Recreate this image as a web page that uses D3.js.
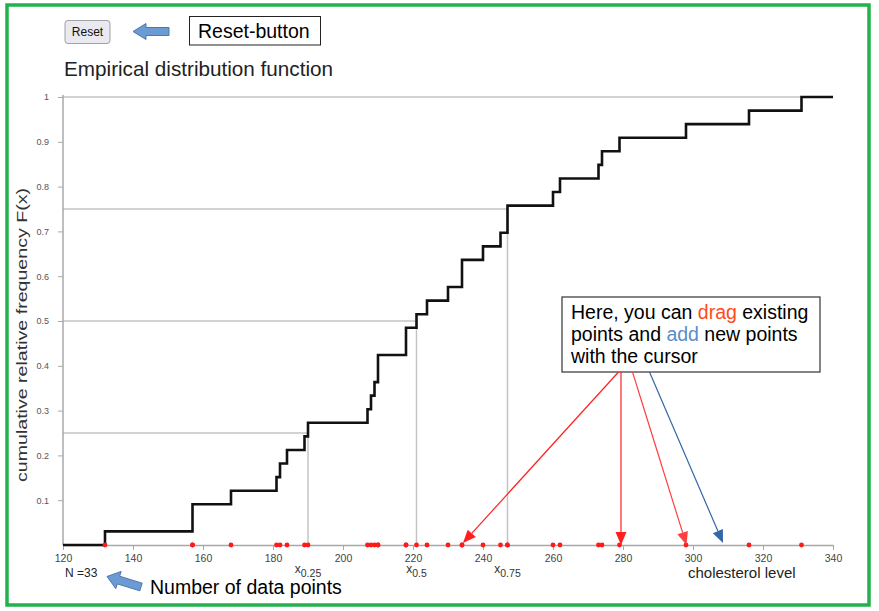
<!DOCTYPE html>
<html><head><meta charset="utf-8">
<script src="https://cdn.jsdelivr.net/npm/d3@7"></script>
<style>
html,body{margin:0;padding:0;background:#fff;}
svg{display:block;font-family:"Liberation Sans",Arial,sans-serif;}
</style></head>
<body>
<svg id="c" width="879" height="611"></svg>
<script>
// ---- data ----
const cholesterol = [132,157,157,168,181,182,184,189,190,207,208,209,210,210,218,218,221,224,230,234,234,240,245,247,247,260,262,273,274,279,298,316,331];
const quantileProbs = [0.25, 0.5, 0.75];
const quantileLabels = ["0.25", "0.5", "0.75"];
const xTicks = [120,140,160,180,200,220,240,260,280,300,320,340];
const yTicks = [0.1,0.2,0.3,0.4,0.5,0.6,0.7,0.8,0.9,1];
const xDomain = [120, 340];
const dragTargets = [234, 279, 298];
const addTarget = 308;

const svg = d3.select("#c");
const x = d3.scaleLinear().domain(xDomain).range([63, 833]);
const y = d3.scaleLinear().domain([0, 1]).range([545, 97]);
const n = cholesterol.length;
const sorted = cholesterol.slice().sort(d3.ascending);

// ECDF points
const uniq = Array.from(new Set(sorted));
const pts = [[xDomain[0], 0]];
uniq.forEach(v => pts.push([v, sorted.filter(d => d <= v).length / n]));
pts.push([xDomain[1], 1]);

// quantiles (smallest x with F(x) >= p)
const quantiles = quantileProbs.map(p => sorted[Math.ceil(p * n - 1e-9) - 1]);

// green frame
svg.append("rect").attr("x", 7).attr("y", 5).attr("width", 862).attr("height", 600)
  .attr("fill", "none").attr("stroke", "#22b14c").attr("stroke-width", 3.5);

// reset button
svg.append("rect").attr("x", 65).attr("y", 20.5).attr("width", 45).attr("height", 23).attr("rx", 3)
  .attr("fill", "#e9e9ef").attr("stroke", "#a0a0a8");
svg.append("text").attr("x", 87.5).attr("y", 36).attr("text-anchor", "middle")
  .attr("font-size", 12).attr("fill", "#111").text("Reset");

// fat arrow helper
function fatArrow(tipX, tipY, tailX, tailY, headLen, headW, shaftW) {
  const dx = tailX - tipX, dy = tailY - tipY, L = Math.hypot(dx, dy);
  const ux = dx / L, uy = dy / L, px = -uy, py = ux;
  const hb = [tipX + ux * headLen, tipY + uy * headLen];
  const p = [
    [tipX, tipY],
    [hb[0] + px * headW / 2, hb[1] + py * headW / 2],
    [hb[0] + px * shaftW / 2, hb[1] + py * shaftW / 2],
    [tailX + px * shaftW / 2, tailY + py * shaftW / 2],
    [tailX - px * shaftW / 2, tailY - py * shaftW / 2],
    [hb[0] - px * shaftW / 2, hb[1] - py * shaftW / 2],
    [hb[0] - px * headW / 2, hb[1] - py * headW / 2]
  ];
  svg.append("path").attr("d", "M" + p.map(q => q.join(",")).join("L") + "Z")
    .attr("fill", "#6b9bd2").attr("stroke", "#4a78b0").attr("stroke-width", 1);
}
fatArrow(133, 31.5, 169, 31.5, 13, 16, 8);
fatArrow(107, 576.5, 141, 587, 12, 18, 8);

// Reset-button label box
svg.append("rect").attr("x", 189.5).attr("y", 16.5).attr("width", 131).attr("height", 28.5)
  .attr("fill", "#fff").attr("stroke", "#222").attr("stroke-width", 1);
svg.append("text").attr("x", 198).attr("y", 37.5).attr("font-size", 19.5).attr("fill", "#000").text("Reset-button");

// title
svg.append("text").attr("x", 64).attr("y", 76).attr("font-size", 20.7).attr("fill", "#222")
  .text("Empirical distribution function");

// quantile / reference gray lines
const gl = svg.append("g").attr("stroke", "#c4c4c4").attr("stroke-width", 1.5).attr("fill", "none");
quantileProbs.forEach((p, i) => {
  gl.append("line").attr("x1", x(xDomain[0])).attr("x2", x(quantiles[i])).attr("y1", y(p)).attr("y2", y(p));
  gl.append("line").attr("x1", x(quantiles[i])).attr("x2", x(quantiles[i])).attr("y1", y(p)).attr("y2", y(0));
});
gl.append("line").attr("x1", x(xDomain[0])).attr("x2", x(sorted[n - 1])).attr("y1", y(1)).attr("y2", y(1));

// axes
const xAxis = svg.append("g").attr("transform", `translate(0,${y(0)})`)
  .call(d3.axisBottom(x).tickValues(xTicks).tickSize(5).tickSizeOuter(0).tickFormat(d3.format("d")));
const yAxis = svg.append("g").attr("transform", `translate(${x(xDomain[0])},0)`)
  .call(d3.axisLeft(y).tickValues(yTicks).tickSize(5).tickSizeOuter(0).tickPadding(9)
    .tickFormat(d => d === 1 ? "1" : d3.format(".1f")(d)));
[xAxis, yAxis].forEach(a => {
  a.select(".domain").attr("stroke", "#a8a8a8").attr("stroke-width", 1.5);
  a.selectAll(".tick line").attr("stroke", "#a8a8a8");
  a.selectAll("text").attr("font-family", "Liberation Sans, Arial, sans-serif").attr("fill", "#444");
});
xAxis.selectAll("text").attr("font-size", 10.5).attr("dy", "0.85em");
yAxis.selectAll("text").attr("font-size", 9).attr("fill", "#555");
yAxis.select(".domain").attr("d", `M0,${y(1) - 2}V${y(0)}`);

// ECDF step line
svg.append("path").datum(pts)
  .attr("d", d3.line().x(d => x(d[0])).y(d => y(d[1])).curve(d3.curveStepAfter))
  .attr("fill", "none").attr("stroke", "#111").attr("stroke-width", 2.6);

// data points on axis
svg.append("g").selectAll("circle").data(cholesterol).join("circle")
  .attr("cx", d => x(d)).attr("cy", y(0)).attr("r", 2.4).attr("fill", "#ff1a1a");

// quantile labels
quantileProbs.forEach((p, i) => {
  const t = svg.append("text").attr("x", x(quantiles[i])).attr("y", 573).attr("text-anchor", "middle")
    .attr("fill", "#333").attr("font-size", 12);
  t.append("tspan").text("x");
  t.append("tspan").attr("font-size", 10.5).attr("dy", 3.5).text(quantileLabels[i]);
});

// axis titles
svg.append("text").attr("x", 688).attr("y", 578).attr("font-size", 15).attr("fill", "#222").text("cholesterol level");
svg.append("text").attr("transform", "translate(27,335) rotate(-90)").attr("text-anchor", "middle")
  .attr("font-size", 14.5).attr("fill", "#333")
  .attr("textLength", 294).attr("lengthAdjust", "spacingAndGlyphs")
  .text("cumulative relative frequency F(x)");

// N
svg.append("text").attr("x", 65).attr("y", 577).attr("font-size", 12).attr("fill", "#222").text("N =" + n);
svg.append("text").attr("x", 150).attr("y", 594).attr("font-size", 19.5).attr("fill", "#000").text("Number of data points");

// annotation box
svg.append("rect").attr("x", 562).attr("y", 297).attr("width", 258).attr("height", 75)
  .attr("fill", "#fff").attr("stroke", "#333").attr("stroke-width", 1.2);
const lines = [
  [["Here, you can ", "#000"], ["drag", "#ff4a1a"], [" existing", "#000"]],
  [["points and ", "#000"], ["add", "#5b8dc9"], [" new points", "#000"]],
  [["with the cursor", "#000"]]
];
lines.forEach((ln, i) => {
  const t = svg.append("text").attr("x", 571).attr("y", 319 + i * 21.8).attr("font-size", 19.5);
  ln.forEach(s => t.append("tspan").attr("fill", s[1]).text(s[0]));
});

// thin arrows
function thinArrow(x1, y1, x2, y2, color) {
  const dx = x2 - x1, dy = y2 - y1, L = Math.hypot(dx, dy);
  const ux = dx / L, uy = dy / L, px = -uy, py = ux;
  const hl = 13, hw = 11;
  const bx = x2 - ux * hl, by = y2 - uy * hl;
  svg.append("line").attr("x1", x1).attr("y1", y1).attr("x2", bx).attr("y2", by)
    .attr("stroke", color).attr("stroke-width", 1.2);
  svg.append("path").attr("d", `M${x2},${y2}L${bx + px * hw / 2},${by + py * hw / 2}L${bx - px * hw / 2},${by - py * hw / 2}Z`)
    .attr("fill", color);
}
thinArrow(618.5, 372, x(dragTargets[0]) + 1, y(0) - 2, "#ff1f1f");
thinArrow(621, 372, x(dragTargets[1]) + 1.5, y(0), "#ff1f1f");
thinArrow(632.5, 372, x(dragTargets[2]) + 0.5, y(0), "#ff4040");
thinArrow(649.5, 372, x(addTarget) + 2, y(0) - 2, "#3566a8");
</script>
</body></html>
